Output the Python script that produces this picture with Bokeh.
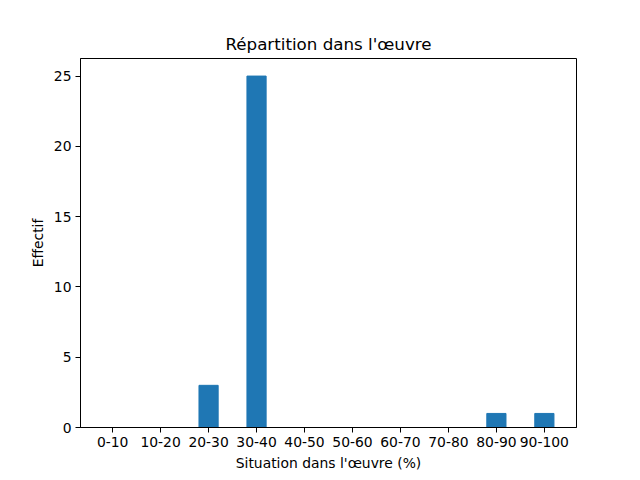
from bokeh.plotting import figure
from bokeh.models import Range1d, FixedTicker, ColumnDataSource
from bokeh.embed import file_html
from bokeh.resources import INLINE

categories = ["0-10", "10-20", "20-30", "30-40", "40-50", "50-60", "60-70", "70-80", "80-90", "90-100"]
counts = [0, 0, 3, 25, 0, 0, 0, 0, 1, 1]

idx = list(range(len(categories)))
src = ColumnDataSource(dict(x=idx, top=counts))

p = figure(width=640, height=480, output_backend="svg", toolbar_location=None,
           x_range=Range1d(-0.67, 9.67), y_range=Range1d(0, 26.25),
           min_border_left=80, min_border_right=64, min_border_top=58, min_border_bottom=53,
           frame_width=496, frame_height=369)
p.vbar(x="x", top="top", width=0.4, source=src, color="#1f77b4")

p.title.text = "Répartition dans l'œuvre"
p.title.align = "center"
p.title.text_font = "DejaVu Sans"
p.title.text_font_size = "16.7px"
p.title.text_font_style = "normal"
p.title.text_color = "black"

p.xaxis.ticker = FixedTicker(ticks=idx)
p.xaxis.major_label_overrides = {i: c for i, c in zip(idx, categories)}
p.yaxis.ticker = FixedTicker(ticks=[0, 5, 10, 15, 20, 25])
p.xaxis.axis_label = "Situation dans l'œuvre (%)"
p.yaxis.axis_label = "Effectif"

for ax in (p.xaxis[0], p.yaxis[0]):
    ax.axis_label_text_font = "DejaVu Sans"
    ax.axis_label_text_font_size = "13.9px"
    ax.axis_label_text_font_style = "normal"
    ax.major_label_text_font = "DejaVu Sans"
    ax.major_label_text_font_size = "13.9px"
    ax.minor_tick_line_color = None
    ax.major_tick_out = 5
    ax.major_tick_in = 0
    ax.axis_line_color = "black"
    ax.major_tick_line_color = "black"
    ax.major_label_text_color = "black"
    ax.axis_label_text_color = "black"
    ax.major_label_standoff = 4
    ax.axis_label_standoff = 5

p.xgrid.grid_line_color = None
p.ygrid.grid_line_color = None
p.outline_line_color = "black"
p.outline_line_alpha = 1

open("out.html", "w").write(file_html(p, INLINE))
